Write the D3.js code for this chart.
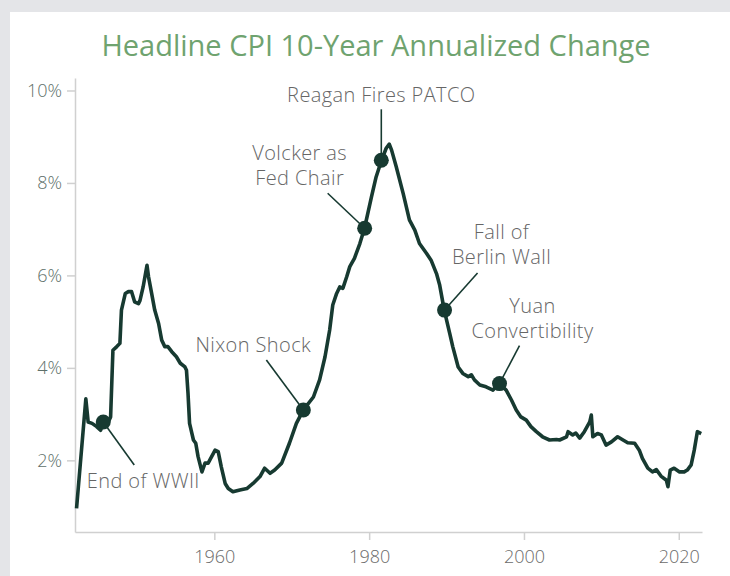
<!DOCTYPE html>
<html>
<head>
<meta charset="utf-8">
<script src="https://cdn.jsdelivr.net/npm/d3@7"></script>
<style>
  body { margin: 0; background: #e4e5e8; }
  svg { display: block; }
  text { font-family: 'Open Sans', sans-serif; font-weight: 300; }
</style>
</head>
<body>
<div id="chart"></div>
<script>
// decimal years and 10-year annualized headline CPI change (%)
var years = [1942.2, 1943.4, 1943.7, 1944.2, 1944.8, 1945.3, 1945.7, 1946.3, 1946.6, 1946.9,
             1947.4, 1947.8, 1948.0, 1948.5, 1948.9, 1949.3, 1949.7, 1950.2, 1950.4, 1950.8,
             1951.3, 1951.5, 1951.9, 1952.3, 1952.8, 1953.2, 1953.6, 1954.0, 1954.5, 1955.1,
             1955.6, 1956.2, 1956.4, 1956.6, 1956.8, 1957.3, 1957.6, 1957.9, 1958.4, 1958.8,
             1959.2, 1960.1, 1960.5, 1960.9, 1961.4, 1961.8, 1962.4, 1963.3, 1964.2, 1965.0,
             1965.9, 1966.5, 1967.2, 1967.8, 1968.7, 1969.7, 1970.6, 1971.5, 1972.8, 1973.6,
             1974.3, 1974.9, 1975.3, 1975.8, 1976.2, 1976.6, 1977.1, 1977.5, 1978.1, 1978.8,
             1979.4, 1980.3, 1980.9, 1981.6, 1982.2, 1982.6, 1982.9, 1983.5, 1984.4, 1985.2,
             1985.9, 1986.5, 1987.4, 1988.0, 1988.7, 1989.1, 1989.7, 1990.4, 1990.8, 1991.5,
             1992.1, 1992.8, 1993.2, 1993.6, 1994.3, 1995.1, 1996.0, 1996.8, 1997.7, 1998.4,
             1999.0, 1999.6, 2000.3, 2000.9, 2001.6, 2002.4, 2003.3, 2004.2, 2004.6, 2005.5,
             2005.7, 2006.3, 2006.7, 2007.2, 2007.8, 2008.5, 2008.7, 2008.9, 2009.5, 2010.0,
             2010.6, 2011.3, 2012.1, 2012.8, 2013.4, 2014.3, 2014.9, 2015.3, 2016.0, 2016.6,
             2017.1, 2017.7, 2018.4, 2018.6, 2018.9, 2019.4, 2020.1, 2020.7, 2021.1, 2021.6,
             2022.0, 2022.4, 2022.9];
var cpi = [0.96, 3.33, 2.83, 2.80, 2.73, 2.65, 2.83, 2.83, 2.94, 4.38,
           4.46, 4.53, 5.25, 5.61, 5.65, 5.65, 5.43, 5.39, 5.46, 5.75,
           6.22, 5.97, 5.61, 5.25, 4.96, 4.60, 4.46, 4.46, 4.35, 4.24,
           4.10, 4.02, 3.95, 3.45, 2.80, 2.44, 2.37, 2.08, 1.75, 1.94,
           1.94, 2.22, 2.19, 1.86, 1.50, 1.39, 1.32, 1.36, 1.39, 1.50,
           1.65, 1.83, 1.72, 1.79, 1.94, 2.37, 2.80, 3.09, 3.37, 3.74,
           4.24, 4.82, 5.36, 5.61, 5.75, 5.72, 5.97, 6.19, 6.37, 6.69,
           7.02, 7.70, 8.13, 8.49, 8.75, 8.84, 8.71, 8.35, 7.77, 7.20,
           6.98, 6.69, 6.48, 6.33, 6.04, 5.80, 5.25, 4.75, 4.46, 4.02,
           3.88, 3.81, 3.85, 3.74, 3.63, 3.59, 3.52, 3.66, 3.52, 3.30,
           3.09, 2.94, 2.87, 2.73, 2.62, 2.51, 2.44, 2.45, 2.44, 2.51,
           2.62, 2.55, 2.59, 2.48, 2.62, 2.83, 2.98, 2.51, 2.58, 2.55,
           2.33, 2.40, 2.51, 2.44, 2.38, 2.37, 2.22, 2.04, 1.83, 1.75,
           1.80, 1.66, 1.57, 1.43, 1.79, 1.83, 1.75, 1.75, 1.79, 1.90,
           2.22, 2.62, 2.58];

var eventNames = [["End of WWII"], ["Nixon Shock"], ["Volcker as", "Fed Chair"],
                  ["Reagan Fires PATCO"], ["Fall of", "Berlin Wall"], ["Yuan", "Convertibility"]];
var eventYears = [1945.65, 1971.5, 1979.42, 1981.57, 1989.74, 1996.84];
var eventValues = [2.83, 3.09, 7.02, 8.49, 5.25, 3.66];

var yTicks = [2, 4, 6, 8, 10];
var xTicks = [1960, 1980, 2000, 2020];

// label placement relative to each dot: leader start (lx, ly), first text line (tx, ty)
var labelLayout = [
  {lx: 31, ly: 43, tx: 40, ty: 59},
  {lx: -37, ly: -50, tx: -50, ty: -65},
  {lx: -37, ly: -35, tx: -65, ty: -75},
  {lx: 0, ly: -51, tx: 0, ty: -65},
  {lx: 33, ly: -37, tx: 57, ty: -78},
  {lx: 20, ly: -38, tx: 33, ty: -78}
];

var W = 730, H = 576;
var ink = '#173a31';

var svg = d3.select('#chart').append('svg')
  .attr('width', W)
  .attr('height', H);

svg.append('rect')
  .attr('x', 10).attr('y', 12)
  .attr('width', W - 10).attr('height', H - 12)
  .attr('fill', '#fff');

svg.append('text')
  .attr('x', 376).attr('y', 56)
  .attr('text-anchor', 'middle')
  .attr('font-size', '29px')
  .attr('font-weight', 400)
  .style('font-weight', 400)
  .attr('fill', '#6fa36f')
  .text('Headline CPI 10-Year Annualized Change');

var x = d3.scaleLinear().domain([1942, 2023]).range([75, 702]);
var y = d3.scaleLinear().domain([0.45, 10.27]).range([532, 78]);

var yAxis = svg.append('g')
  .attr('transform', 'translate(75,0)')
  .call(d3.axisLeft(y).tickValues(yTicks).tickFormat(function(d){ return d + '%'; })
        .tickSize(8).tickSizeOuter(0).tickPadding(5));

var xAxis = svg.append('g')
  .attr('transform', 'translate(0,532)')
  .call(d3.axisBottom(x).tickValues(xTicks).tickFormat(d3.format('d'))
        .tickSize(8).tickSizeOuter(0).tickPadding(10));

[yAxis, xAxis].forEach(function(ax){
  ax.select('.domain').attr('stroke', '#d0d0d0').attr('stroke-width', 1.5);
  ax.selectAll('.tick line').attr('stroke', '#d0d0d0').attr('stroke-width', 1.5);
  ax.selectAll('text')
    .attr('font-family', null)
    .attr('font-size', '18px');
});
yAxis.selectAll('text').attr('fill', '#5e706a');
xAxis.selectAll('text').attr('fill', '#6b6b6b');

var points = years.map(function(d, i){ return [d, cpi[i]]; });

var line = d3.line()
  .x(function(d){ return x(d[0]); })
  .y(function(d){ return y(d[1]); });

svg.append('path')
  .datum(points)
  .attr('d', line)
  .attr('fill', 'none')
  .attr('stroke', ink)
  .attr('stroke-width', 3.6)
  .attr('stroke-linejoin', 'round');

// annotations
var events = eventNames.map(function(n, i){
  return {name: n, year: eventYears[i], value: eventValues[i], pos: labelLayout[i]};
});

var ev = svg.selectAll('g.event')
  .data(events)
  .enter()
  .append('g')
  .classed('event', true)
  .attr('transform', function(d){ return 'translate(' + x(d.year) + ',' + y(d.value) + ')'; });

ev.append('line')
  .attr('x1', function(d){ return d.pos.lx; })
  .attr('y1', function(d){ return d.pos.ly; })
  .attr('x2', 0).attr('y2', 0)
  .attr('stroke', ink)
  .attr('stroke-width', 1.6);

ev.append('circle')
  .attr('r', 7.5)
  .attr('fill', ink);

ev.append('text')
  .attr('text-anchor', 'middle')
  .attr('font-size', '20px')
  .attr('letter-spacing', '0.4px')
  .attr('fill', '#666')
  .each(function(d){
    var t = d3.select(this);
    d.name.forEach(function(s, j){
      t.append('tspan')
        .attr('x', d.pos.tx)
        .attr('y', d.pos.ty + j * 25 + 7)
        .text(s);
    });
  });
</script>
</body>
</html>
